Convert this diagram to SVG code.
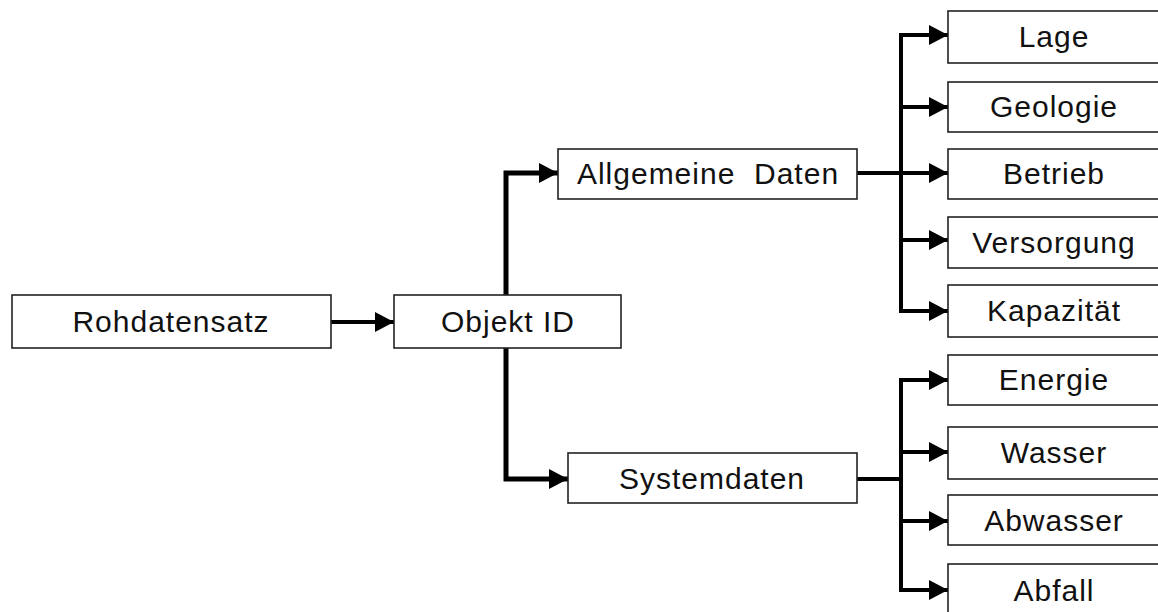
<svg xmlns="http://www.w3.org/2000/svg" width="1158" height="612" viewBox="0 0 1158 612">
<style>
.box{fill:#fff;stroke:#222;stroke-width:1.6}
.lbl{font-family:"Liberation Sans",Arial,sans-serif;font-size:30px;letter-spacing:1px;fill:#111;text-anchor:middle;white-space:pre}
.con{fill:none;stroke:#000;stroke-width:4;marker-end:url(#ah)}
.bus{fill:none;stroke:#000;stroke-width:4}
</style>
<defs>
<marker id="ah" markerUnits="userSpaceOnUse" markerWidth="20" markerHeight="20" refX="19" refY="10" orient="auto" viewBox="0 0 20 20">
<path d="M0,0 L19,10 L0,20 Z" fill="#000"/>
</marker>
</defs>
<rect width="1158" height="612" fill="#fff"/>
<g id="connectors">
<path class="con" d="M331,322 H394"/>
<path class="con" style="stroke-width:5" d="M506,295 V173 H558"/>
<path class="con" style="stroke-width:5" d="M506,348 V479 H568"/>
<path class="bus" d="M857,173 H901"/>
<path class="bus" d="M901,33 V313"/>
<path class="con" d="M899,35 H948"/>
<path class="con" d="M901,107 H948"/>
<path class="con" d="M901,173 H948"/>
<path class="con" d="M901,240 H948"/>
<path class="con" d="M899,311 H948"/>
<path class="bus" d="M857,479 H901"/>
<path class="bus" d="M901,378 V592"/>
<path class="con" d="M899,380 H948"/>
<path class="con" d="M901,452 H948"/>
<path class="con" d="M901,521 H948"/>
<path class="con" d="M899,590 H948"/>
</g>
<g id="n-roh"><rect class="box" x="12" y="295" width="319" height="53"/><text class="lbl" x="171" y="332">Rohdatensatz</text></g>
<g id="n-obj"><rect class="box" x="394" y="295" width="227" height="53"/><text class="lbl" x="508" y="332">Objekt ID</text></g>
<g id="n-allg"><rect class="box" x="558" y="149" width="299" height="50"/><text class="lbl" x="708" y="184">Allgemeine  Daten</text></g>
<g id="n-sys"><rect class="box" x="568" y="453" width="289" height="50"/><text class="lbl" x="712" y="489">Systemdaten</text></g>
<g id="n-lage"><rect class="box" x="948" y="11" width="215" height="52"/><text class="lbl" x="1054" y="47">Lage</text></g>
<g id="n-geo"><rect class="box" x="948" y="82" width="215" height="50"/><text class="lbl" x="1054" y="117">Geologie</text></g>
<g id="n-betr"><rect class="box" x="948" y="149" width="215" height="50"/><text class="lbl" x="1054" y="184">Betrieb</text></g>
<g id="n-vers"><rect class="box" x="948" y="217" width="215" height="51"/><text class="lbl" x="1054" y="253">Versorgung</text></g>
<g id="n-kap"><rect class="box" x="948" y="285" width="215" height="52"/><text class="lbl" x="1054" y="321">Kapazität</text></g>
<g id="n-ener"><rect class="box" x="948" y="355" width="215" height="50"/><text class="lbl" x="1054" y="390">Energie</text></g>
<g id="n-wass"><rect class="box" x="948" y="427" width="215" height="52"/><text class="lbl" x="1054" y="463">Wasser</text></g>
<g id="n-abw"><rect class="box" x="948" y="495" width="215" height="50"/><text class="lbl" x="1054" y="531">Abwasser</text></g>
<g id="n-abf"><rect class="box" x="948" y="564" width="215" height="60"/><text class="lbl" x="1054" y="601">Abfall</text></g>
</svg>
